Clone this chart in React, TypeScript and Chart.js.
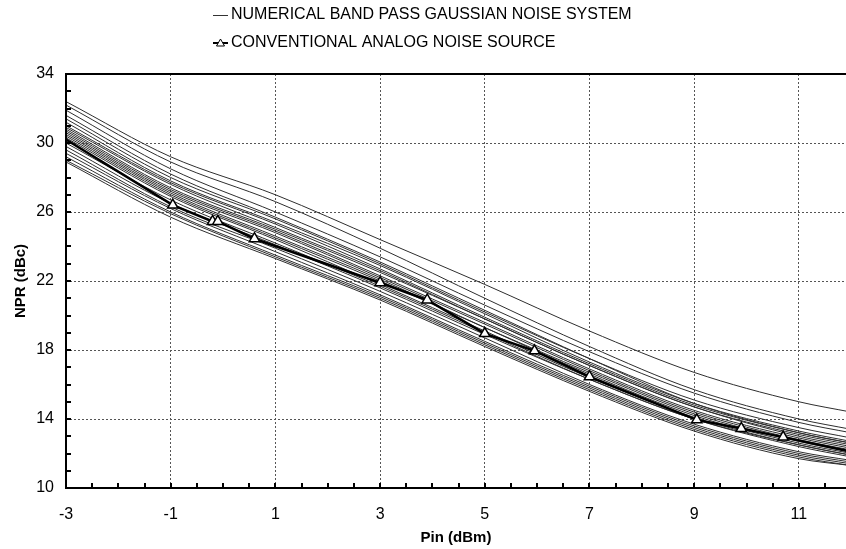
import React, { useEffect, useRef } from "react";
import { Chart, registerables } from "chart.js";

Chart.register(...registerables);

// ---------------- data ----------------
const X_SAMPLES = [-3, -1, 1, 3, 5, 7, 9, 11, 12];

const CURVE_01 = [32.4, 29.2, 27.0, 24.4, 21.8, 19.1, 16.7, 15.0, 14.4];
const CURVE_02 = [32.2, 28.9, 26.6, 23.9, 21.0, 18.2, 15.7, 14.0, 13.4];
const CURVE_03 = [31.9, 28.5, 26.0, 23.4, 20.6, 17.9, 15.5, 13.8, 13.2];
const CURVE_04 = [31.6, 28.2, 25.7, 23.1, 20.3, 17.5, 14.9, 13.2, 12.6];
const CURVE_05 = [31.4, 28.0, 25.6, 23.0, 20.2, 17.5, 15.1, 13.5, 12.9];
const CURVE_06 = [31.2, 27.8, 25.4, 22.9, 20.1, 17.3, 14.9, 13.3, 12.7];
const CURVE_07 = [31.0, 27.7, 25.3, 22.7, 19.9, 17.2, 14.8, 13.2, 12.6];
const CURVE_08 = [30.9, 27.6, 25.1, 22.6, 19.8, 17.1, 14.7, 13.0, 12.4];
const CURVE_09 = [30.8, 27.4, 25.0, 22.5, 19.8, 17.1, 14.7, 13.1, 12.5];
const CURVE_10 = [30.7, 27.3, 24.9, 22.3, 19.6, 16.9, 14.5, 12.9, 12.3];
const CURVE_11 = [30.6, 27.2, 24.8, 22.2, 19.5, 16.8, 14.4, 12.8, 12.2];
const CURVE_12 = [30.5, 27.1, 24.6, 22.1, 19.3, 16.6, 14.2, 12.6, 12.0];
const CURVE_13 = [30.4, 27.0, 24.5, 22.0, 19.3, 16.7, 14.3, 12.7, 12.1];
const CURVE_14 = [30.3, 26.9, 24.4, 21.8, 19.1, 16.4, 14.1, 12.5, 11.9];
const CURVE_15 = [30.0, 26.7, 24.2, 21.7, 19.0, 16.3, 14.0, 12.4, 11.8];
const CURVE_16 = [29.8, 26.5, 24.1, 21.6, 18.9, 16.3, 14.0, 12.5, 11.9];
const CURVE_17 = [29.6, 26.3, 23.9, 21.4, 18.7, 16.0, 13.7, 12.1, 11.6];
const CURVE_18 = [29.4, 26.2, 23.7, 21.2, 18.5, 15.9, 13.6, 12.0, 11.5];
const CURVE_19 = [29.2, 26.0, 23.5, 21.1, 18.4, 15.8, 13.5, 11.9, 11.4];
const CURVE_20 = [29.0, 25.9, 23.4, 21.0, 18.3, 15.7, 13.4, 11.8, 11.3];
const CURVE_21 = [28.9, 25.7, 23.3, 20.9, 18.2, 15.6, 13.3, 11.7, 11.3];

const NUMERICAL_CURVES = [
  CURVE_01, CURVE_02, CURVE_03, CURVE_04, CURVE_05, CURVE_06, CURVE_07,
  CURVE_08, CURVE_09, CURVE_10, CURVE_11, CURVE_12, CURVE_13, CURVE_14,
  CURVE_15, CURVE_16, CURVE_17, CURVE_18, CURVE_19, CURVE_20, CURVE_21,
];

const CONV_X = [-3, -0.96, -0.2, -0.1, 0.6, 3.0, 3.9, 5.0, 5.95, 7.0, 9.05, 9.9, 10.7, 12];
const CONV_Y = [30.2, 26.4, 25.45, 25.45, 24.45, 21.9, 20.9, 18.95, 17.95, 16.45, 13.95, 13.45, 12.95, 12.1];
const CONV_MARKER = [0, 1, 1, 1, 1, 1, 1, 1, 1, 1, 1, 1, 1, 0];

const X_TICKS = [-3, -1, 1, 3, 5, 7, 9, 11];
const Y_TICKS = [10, 14, 18, 22, 26, 30, 34];
const X_MIN = -3;
const X_MAX = 11.9;
const Y_MIN = 10;
const Y_MAX = 34;
const X_MINOR = 0.5;
const Y_MINOR = 1;

const LEGEND_LABELS = [
  "NUMERICAL BAND PASS GAUSSIAN NOISE SYSTEM",
  "CONVENTIONAL ANALOG NOISE SOURCE",
];
const X_TITLE = "Pin (dBm)";
const Y_TITLE = "NPR (dBc)";

// ---------------- styles ----------------
const FONT = "'Liberation Sans', Arial, sans-serif";
const GRID_COLOR = "#555";

const framePlugin = {
  id: "frame",
  afterDraw(chart: any) {
    const { ctx, chartArea } = chart;
    const xs = chart.scales.x;
    const ys = chart.scales.y;
    const { left, right, top, bottom } = chartArea;
    ctx.save();
    ctx.strokeStyle = "#000";
    ctx.lineWidth = 2;
    ctx.setLineDash([]);
    ctx.beginPath();
    ctx.moveTo(left, top);
    ctx.lineTo(left, bottom);
    ctx.moveTo(left - 1, bottom);
    ctx.lineTo(right, bottom);
    ctx.moveTo(left - 1, top);
    ctx.lineTo(right, top);
    ctx.stroke();
    ctx.lineWidth = 2;
    ctx.beginPath();
    for (let v = X_MIN + X_MINOR; v <= X_MAX + 1e-6; v += X_MINOR) {
      const px = Math.round(xs.getPixelForValue(v));
      ctx.moveTo(px, bottom);
      ctx.lineTo(px, bottom - 5);
    }
    for (let v = Y_MIN + Y_MINOR; v < Y_MAX - 1e-6; v += Y_MINOR) {
      const py = Math.round(ys.getPixelForValue(v));
      ctx.moveTo(left, py);
      ctx.lineTo(left + 5, py);
    }
    ctx.stroke();

    ctx.fillStyle = "#000";
    ctx.font = `bold 15px ${FONT}`;
    ctx.textAlign = "center";
    ctx.textBaseline = "middle";
    ctx.fillText(X_TITLE, (left + right) / 2, 538);
    ctx.save();
    ctx.translate(21, (top + bottom) / 2);
    ctx.rotate(-Math.PI / 2);
    ctx.fillText(Y_TITLE, 0, 0);
    ctx.restore();

    ctx.font = `16px ${FONT}`;
    ctx.textAlign = "left";
    ctx.textBaseline = "middle";
    const ly1 = 15;
    const ly2 = 43;
    ctx.strokeStyle = "#333";
    ctx.lineWidth = 1;
    ctx.beginPath();
    ctx.moveTo(213, ly1 + 0.5);
    ctx.lineTo(228, ly1 + 0.5);
    ctx.stroke();
    ctx.fillText(LEGEND_LABELS[0], 231, ly1);

    ctx.strokeStyle = "#000";
    ctx.lineWidth = 2;
    ctx.beginPath();
    ctx.moveTo(213, ly2);
    ctx.lineTo(228, ly2);
    ctx.stroke();
    ctx.lineWidth = 1;
    ctx.fillStyle = "#fff";
    ctx.beginPath();
    ctx.moveTo(220.5, ly2 - 4);
    ctx.lineTo(224.5, ly2 + 3);
    ctx.lineTo(216.5, ly2 + 3);
    ctx.closePath();
    ctx.fill();
    ctx.stroke();
    ctx.fillStyle = "#000";
    ctx.fillText(LEGEND_LABELS[1], 231, ly2);
    ctx.restore();
  },
};

export default function App() {
  const canvasRef = useRef<HTMLCanvasElement | null>(null);

  useEffect(() => {
    const canvas = canvasRef.current;
    if (!canvas) return;

    const convData = CONV_X.map((x, i) => ({ x, y: CONV_Y[i] }));
    const datasets: any[] = [
      {
        label: LEGEND_LABELS[1],
        data: convData,
        borderColor: "#000",
        borderWidth: 2.5,
        tension: 0,
        pointStyle: "triangle",
        pointRadius: CONV_MARKER.map((m) => (m ? 6 : 0)),
        pointBackgroundColor: "#fff",
        pointBorderColor: "#000",
        pointBorderWidth: 1.5,
      },
      ...NUMERICAL_CURVES.map((curve, k) => ({
        label: k === 0 ? LEGEND_LABELS[0] : `${LEGEND_LABELS[0]} ${k + 1}`,
        data: X_SAMPLES.map((x, i) => ({ x, y: curve[i] })),
        borderColor: "#2e2e2e",
        borderWidth: 1,
        pointRadius: 0,
        cubicInterpolationMode: "monotone",
      })),
    ];

    const gridColorX = (c: any) =>
      c.tick && Math.abs(c.tick.value - X_MIN) < 1e-9 ? "rgba(0,0,0,0)" : GRID_COLOR;
    const gridColorY = (c: any) =>
      c.tick && (c.tick.value === Y_MIN || c.tick.value === Y_MAX) ? "rgba(0,0,0,0)" : GRID_COLOR;

    const chart = new Chart(canvas, {
      type: "line",
      data: { datasets },
      options: {
        animation: false,
        responsive: false,
        devicePixelRatio: 1,
        layout: { padding: { top: 74, left: 0, right: 0, bottom: 0 } },
        plugins: {
          legend: { display: false },
          tooltip: { enabled: false },
        },
        scales: {
          x: {
            type: "linear",
            min: X_MIN,
            max: X_MAX,
            afterBuildTicks: (s: any) => {
              s.ticks = X_TICKS.map((v) => ({ value: v }));
            },
            afterFit: (s: any) => {
              s.height = 61;
            },
            ticks: {
              font: { family: FONT, size: 16 },
              color: "#000",
              padding: 17,
              maxRotation: 0,
              autoSkip: false,
              callback: (v: any) => String(v),
            },
            grid: { drawTicks: false, color: gridColorX, lineWidth: 1 },
            border: { display: false, dash: [2, 2] },
          },
          y: {
            type: "linear",
            min: Y_MIN,
            max: Y_MAX,
            afterBuildTicks: (s: any) => {
              s.ticks = Y_TICKS.map((v) => ({ value: v }));
            },
            afterFit: (s: any) => {
              s.width = 66;
            },
            ticks: {
              font: { family: FONT, size: 16 },
              color: "#000",
              padding: 12,
              autoSkip: false,
              callback: (v: any) => String(v),
            },
            grid: { drawTicks: false, color: gridColorY, lineWidth: 1 },
            border: { display: false, dash: [2, 2] },
          },
        },
      },
      plugins: [framePlugin],
    } as any);

    return () => chart.destroy();
  }, []);

  return (
    <div style={{ position: "absolute", left: 0, top: 0, width: 846, height: 549, background: "#fff" }}>
      <canvas ref={canvasRef} width={846} height={549} style={{ display: "block" }} />
    </div>
  );
}
